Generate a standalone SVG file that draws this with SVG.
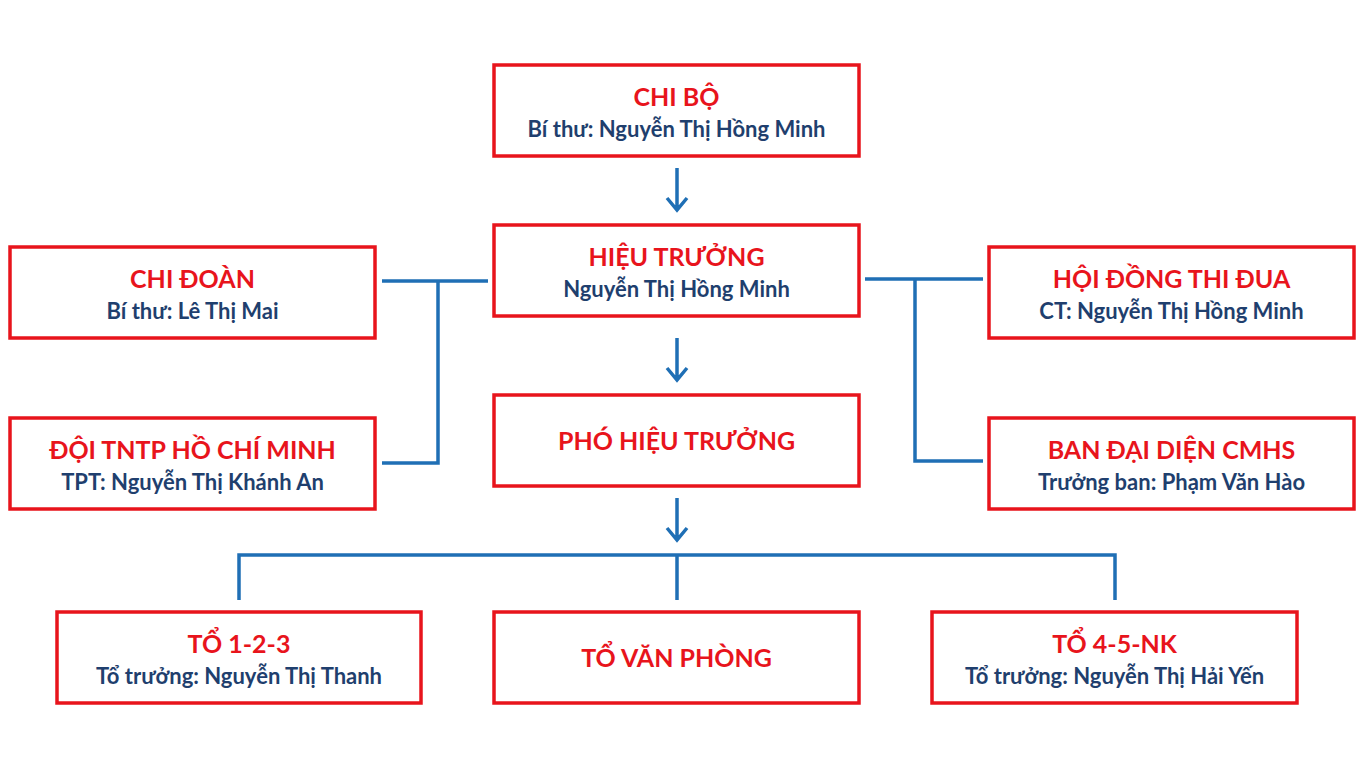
<svg xmlns="http://www.w3.org/2000/svg" width="1366" height="768" viewBox="0 0 1366 768">
<style>
.box{fill:#fff;stroke:#e8141c;stroke-width:3.5}
.t{font-family:Lato,"Open Sans",sans-serif;font-weight:bold;font-size:25px;fill:#e8141c;text-anchor:middle}
.s{font-family:Lato,"Open Sans",sans-serif;font-weight:bold;font-size:22px;fill:#1f3f6e;text-anchor:middle}
.c{fill:none;stroke:#1f6fb5;stroke-width:3.5}
</style>
<rect width="1366" height="768" fill="#fff"/>
<g id="connectors" class="c">
<path d="M677 168V210M667 198L677 210L687 198"/>
<path d="M677 338V380M667 368L677 380L687 368"/>
<path d="M677 498V540M667 528L677 540L687 528"/>
<path d="M382 281H488M438 281V463H382"/>
<path d="M865 279H983M915 279V461H983"/>
<path d="M239 600V555H1115V600M677 555V600"/>
</g>
<g id="chibo"><rect class="box" x="494" y="65" width="365" height="91"/><text class="t" x="676.5" y="106">CHI BỘ</text><text class="s" x="676.5" y="137">Bí thư: Nguyễn Thị Hồng Minh</text></g>
<g id="hieutruong"><rect class="box" x="494" y="225" width="365" height="91"/><text class="t" x="676.5" y="266">HIỆU TRƯỞNG</text><text class="s" x="676.5" y="297">Nguyễn Thị Hồng Minh</text></g>
<g id="phohieutruong"><rect class="box" x="494" y="395" width="365" height="91"/><text class="t" x="676.5" y="450">PHÓ HIỆU TRƯỞNG</text></g>
<g id="chidoan"><rect class="box" x="10" y="247" width="365" height="91"/><text class="t" x="192.5" y="288">CHI ĐOÀN</text><text class="s" x="192.5" y="319">Bí thư: Lê Thị Mai</text></g>
<g id="doi"><rect class="box" x="10" y="418" width="365" height="91"/><text class="t" x="192.5" y="459">ĐỘI TNTP HỒ CHÍ MINH</text><text class="s" x="192.5" y="490">TPT: Nguyễn Thị Khánh An</text></g>
<g id="hoidong"><rect class="box" x="989" y="247" width="365" height="91"/><text class="t" x="1171.5" y="288">HỘI ĐỒNG THI ĐUA</text><text class="s" x="1171.5" y="319">CT: Nguyễn Thị Hồng Minh</text></g>
<g id="bandaidien"><rect class="box" x="989" y="418" width="365" height="91"/><text class="t" x="1171.5" y="459">BAN ĐẠI DIỆN CMHS</text><text class="s" x="1171.5" y="490">Trưởng ban: Phạm Văn Hào</text></g>
<g id="to123"><rect class="box" x="57" y="612" width="364" height="91"/><text class="t" x="239" y="653">TỔ 1-2-3</text><text class="s" x="239" y="684">Tổ trưởng: Nguyễn Thị Thanh</text></g>
<g id="tovanphong"><rect class="box" x="494" y="612" width="365" height="91"/><text class="t" x="676.5" y="667">TỔ VĂN PHÒNG</text></g>
<g id="to45nk"><rect class="box" x="932" y="612" width="365" height="91"/><text class="t" x="1114.5" y="653">TỔ 4-5-NK</text><text class="s" x="1114.5" y="684">Tổ trưởng: Nguyễn Thị Hải Yến</text></g>
</svg>
